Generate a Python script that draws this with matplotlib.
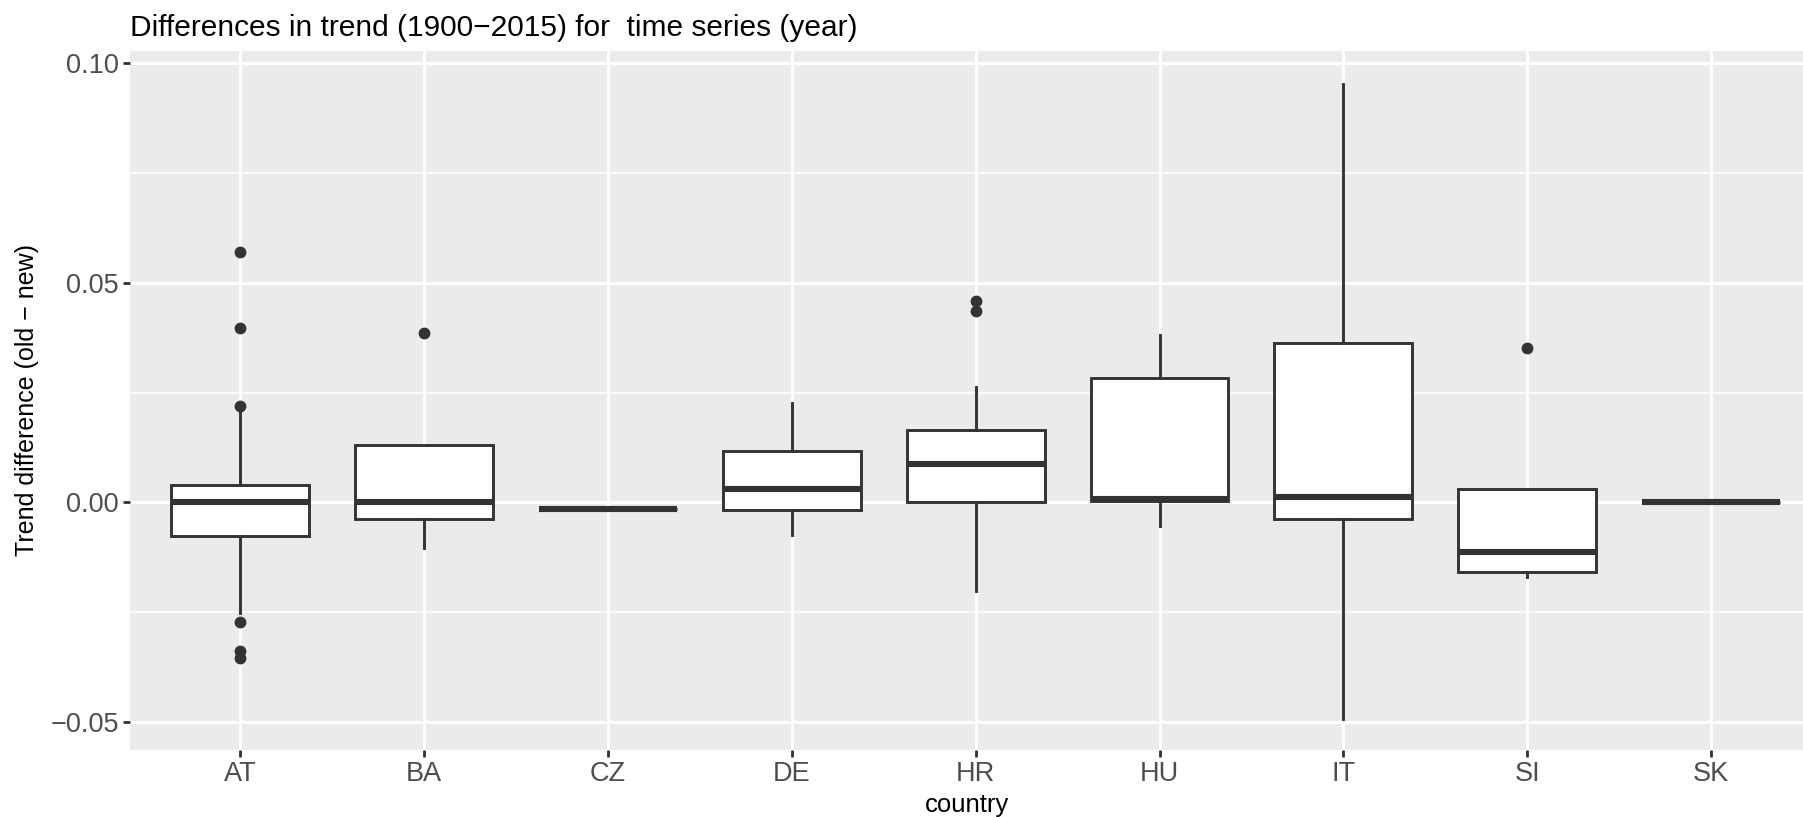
import matplotlib
matplotlib.use("Agg")
import matplotlib.pyplot as plt
import numpy as np

plt.rcParams['font.family'] = ['Liberation Sans', 'DejaVu Sans']

# box statistics
countries = ['AT', 'BA', 'CZ', 'DE', 'HR', 'HU', 'IT', 'SI', 'SK']
whisker_low = [-0.0251, -0.0103, -0.0014, -0.0073, -0.0201, -0.0053, -0.0492, -0.0169, 0.0000]
q1 = [-0.0076, -0.0038, -0.0014, -0.0016, 0.0000, 0.0004, -0.0038, -0.0158, 0.0000]
median = [0.0000, 0.0001, -0.0014, 0.0031, 0.0087, 0.0007, 0.0013, -0.0113, 0.0000]
q3 = [0.0039, 0.0131, -0.0014, 0.0116, 0.0165, 0.0284, 0.0362, 0.0030, 0.0000]
whisker_high = [0.0219, 0.0131, -0.0014, 0.0226, 0.0263, 0.0380, 0.0952, 0.0030, 0.0000]
outliers = [
    [0.0569, 0.0396, 0.0220, -0.0272, -0.0338, -0.0353],
    [0.0385],
    [],
    [],
    [0.0459, 0.0435],
    [],
    [],
    [0.0351],
    [],
]

title = 'Differences in trend (1900\u22122015) for  time series (year)'
ylabel = 'Trend difference (old \u2212 new)'
xlabel = 'country'

fig = plt.figure(figsize=(18.03, 8.17), dpi=100)
W, H = 1803, 817
ax = fig.add_axes([130 / W, (H - 750) / H, (W - 130) / W, 699 / H])
ax.set_facecolor('#EBEBEB')

stats = []
for i, c in enumerate(countries):
    stats.append({'label': c, 'whislo': whisker_low[i], 'q1': q1[i], 'med': median[i],
                  'q3': q3[i], 'whishi': whisker_high[i], 'fliers': outliers[i]})

line_col = '#333333'
ax.bxp(stats, positions=np.arange(1, len(countries) + 1), widths=0.75,
       showcaps=False, patch_artist=True,
       boxprops=dict(facecolor='white', edgecolor=line_col, linewidth=2.1),
       medianprops=dict(color=line_col, linewidth=4.4, solid_capstyle='butt'),
       whiskerprops=dict(color=line_col, linewidth=2.1),
       flierprops=dict(marker='o', markerfacecolor=line_col, markeredgecolor=line_col,
                       markersize=7.5, linestyle='none'),
       zorder=3)

ax.set_xlim(0.4, 9.50)
ax.set_ylim(-0.0563, 0.1027)
ax.set_yticks([-0.05, 0.0, 0.05, 0.10])
ax.set_yticklabels(['\u22120.05', '0.00', '0.05', '0.10'])
ax.set_yticks([-0.025, 0.025, 0.075], minor=True)
ax.set_xticks(np.arange(1, len(countries) + 1))
ax.set_xticklabels(countries)

ax.grid(which='major', color='white', linewidth=2.2, zorder=0)
ax.grid(which='minor', axis='y', color='white', linewidth=1.1, zorder=0)
ax.set_axisbelow(True)
for s in ax.spines.values():
    s.set_visible(False)

ax.tick_params(axis='both', which='major', colors='#333333', length=5, width=2,
               labelsize=19.5, labelcolor='#4D4D4D', pad=3)
ax.tick_params(axis='y', which='minor', length=0)

ax.set_xlabel(xlabel, fontsize=18.5, color='black', labelpad=4)
ax.set_ylabel(ylabel, fontsize=18, color='black', labelpad=8)
ax.set_title(title, fontsize=21.5, color='black', loc='left', pad=11)

fig.savefig('out.png', dpi=100)
